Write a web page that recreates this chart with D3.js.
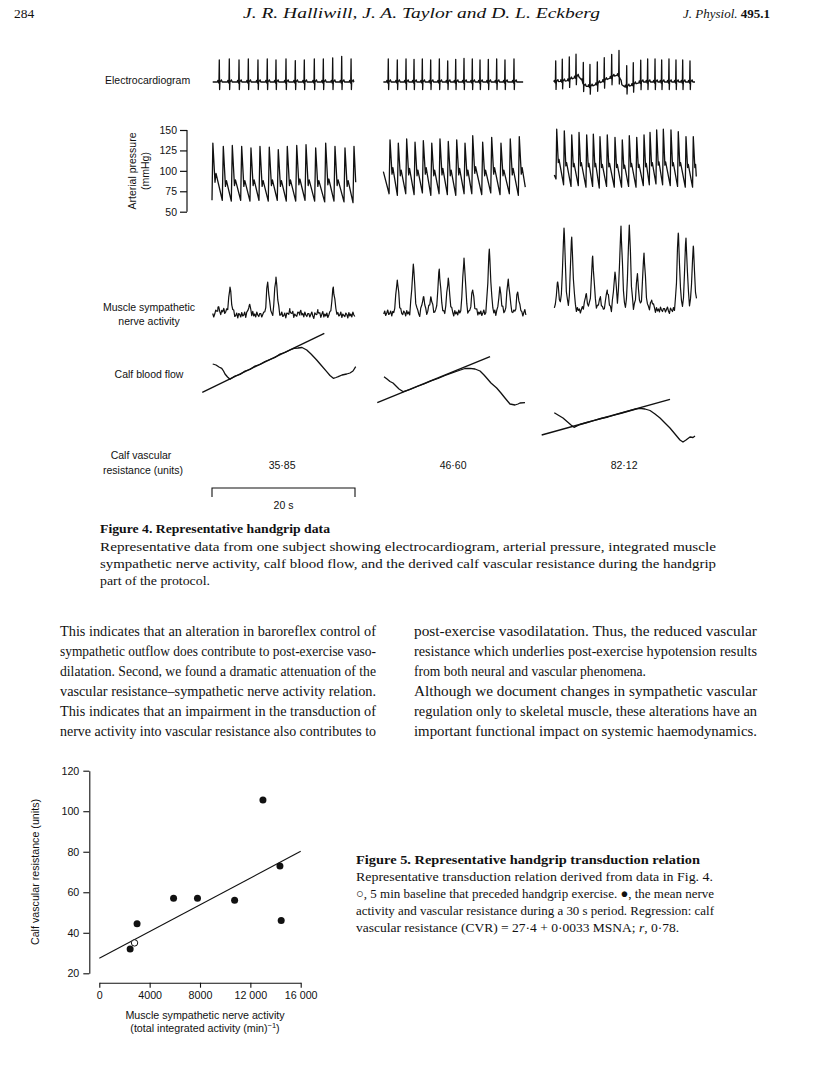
<!DOCTYPE html>
<html><head><meta charset="utf-8">
<script src="https://cdn.jsdelivr.net/npm/d3@7"></script>
<style>
body{margin:0;background:#fff}
svg{display:block}
.sans{font-family:"Liberation Sans",Arial,Helvetica,sans-serif;fill:#111}
.serif{font-family:"Liberation Serif","Times New Roman",serif;fill:#111}
</style>
</head><body>
<svg id="page" width="816" height="1088"></svg>
<script>
// ===================== DATA =====================
const segments = ["segment 1", "segment 2", "segment 3"];      // three 20 s handgrip segments
const cvrValues = ["35·85", "46·60", "82·12"];                  // calf vascular resistance (units)
const apTicks = [50, 75, 100, 125, 150];                        // mmHg

// ECG: R-wave times (s) and R amplitudes (mV) per segment
const ecgR_1 = [1.02, 2.42, 3.78, 5.08, 6.43, 7.73, 8.95, 10.35, 11.65, 12.91, 14.31, 15.57, 16.88, 18.14, 19.45];
const ecgA_1 = [1.05, 1.1, 1.05, 1.1, 1.05, 1.1, 1.05, 1.1, 1.02, 1.05, 1.1, 1.1, 1.15, 1.22, 1.1];
const ecgR_2 = [0.74, 2.0, 3.22, 4.34, 5.5, 6.67, 7.88, 9.05, 10.17, 11.33, 12.49, 13.57, 14.73, 15.9, 17.06, 18.32];
const ecgA_2 = [1.1, 1.05, 1.1, 1.08, 1.1, 1.05, 1.1, 1.0, 1.08, 1.12, 1.1, 1.05, 1.08, 1.1, 1.05, 1.1];
const ecgR_3 = [0.24, 1.16, 2.14, 3.08, 4.1, 5.03, 6.06, 7.03, 8.07, 9.09, 10.17, 11.09, 12.13, 13.1, 14.13, 15.06, 16.08, 17.06, 18.0, 19.02];
const ecgA_3 = [1.0, 1.05, 1.1, 1.1, 1.0, 1.05, 1.05, 1.1, 1.1, 1.2, 1.0, 1.05, 1.05, 1.1, 1.1, 1.05, 1.1, 1.05, 1.05, 1.0];
// ECG baseline wander in segment 3 (s, mV)
const ecgWanderT_3 = [0, 1.8, 3.4, 3.7, 4.3, 5.2, 8.8, 9.1, 9.6, 10.5, 12.2, 20];
const ecgWanderV_3 = [0, 0.05, 0.27, 0.2, -0.2, -0.22, 0.33, 0.3, -0.25, -0.2, 0, 0];
const ecgRange = [[0.1, 19.86], [0.05, 19.6], [0.0, 19.72]];

// Arterial pressure (mmHg): systolic peak times (s), systolic, diastolic (trough before), notch, dicrotic wave
const apT_1 = [0.12, 1.58, 2.84, 4.15, 5.45, 6.71, 8.01, 9.27, 10.53, 11.85, 13.15, 14.5, 15.9, 17.2, 18.6, 19.86];
const apSys_1 = [134, 130, 131, 130, 128, 130, 129, 126, 130, 131, 132, 128, 134, 130, 128, 130];
const apDia_1 = [64, 64, 63, 64, 63, 64, 63, 64, 63, 63, 64, 63, 62, 63, 62, 61];
const apNotch_1 = [86, 81, 82, 81, 82, 81, 82, 81, 82, 83, 82, 81, 83, 82, 81, 82];
const apWave_1 = [97, 88, 89, 88, 89, 88, 89, 88, 89, 90, 89, 88, 90, 89, 88, 89];
const apT_2 = [0.98, 2.14, 3.31, 4.48, 5.64, 6.82, 7.97, 9.13, 10.31, 11.47, 12.55, 13.94, 15.2, 16.5, 17.8, 19.06];
const apSys_2 = [138, 134, 139, 135, 137, 134, 139, 136, 138, 134, 143, 135, 141, 134, 139, 142];
const apDia_2 = [72, 70, 72, 71, 73, 70, 72, 71, 70, 72, 72, 71, 73, 71, 72, 70];
const apNotch_2 = [96, 94, 95, 94, 96, 94, 95, 94, 95, 94, 97, 94, 96, 94, 95, 96];
const apWave_2 = [104, 101, 103, 101, 104, 101, 103, 101, 103, 101, 105, 101, 104, 101, 103, 104];
const apT_3 = [0.38, 1.44, 2.48, 3.5, 4.57, 5.5, 6.43, 7.45, 8.53, 9.55, 10.53, 11.57, 12.59, 13.43, 14.36, 15.29, 16.36, 17.38, 18.46, 19.48];
const apSys_3 = [151, 149, 144, 147, 144, 145, 142, 144, 141, 138, 143, 141, 144, 147, 150, 151, 150, 148, 142, 142];
const apDia_3 = [90, 83, 81, 82, 80, 81, 79, 81, 80, 80, 81, 80, 82, 83, 84, 83, 82, 81, 80, 80];
const apNotch_3 = [110, 106, 105, 106, 105, 105, 104, 105, 104, 103, 105, 104, 105, 106, 107, 107, 106, 106, 104, 104];
const apWave_3 = [114, 110, 109, 110, 109, 109, 108, 109, 108, 107, 109, 108, 109, 110, 111, 111, 110, 110, 108, 108];
const apStart = [[0.0, 64], [0.05, 99], [0.04, 95]];
const apEnd = [[20.1, 86], [19.9, 80], [19.9, 93]];

// Muscle sympathetic nerve activity (arbitrary units): burst times (s), burst peak levels, baseline level
const msnaT_1 = [0.84, 1.68, 2.52, 5.22, 7.79, 8.95, 10.9, 12.3, 14.83, 16.97];
const msnaP_1 = [13, 11, 33, 15, 38, 43, 9, 8, 8, 33];
const msnaT_2 = [2.0, 4.24, 5.64, 6.71, 7.87, 9.13, 11.33, 12.55, 14.87, 16.36, 17.52, 18.84];
const msnaP_2 = [40, 56, 23, 23, 51, 42, 62, 30, 71, 32, 41, 28];
const msnaT_3 = [0.52, 1.4, 2.48, 4.48, 5.41, 6.43, 7.45, 8.53, 9.37, 10.53, 11.65, 12.59, 13.66, 17.38, 18.46, 19.48];
const msnaP_3 = [38, 92, 83, 26, 64, 22, 30, 48, 94, 95, 45, 67, 20, 87, 82, 74];
const msnaBase = [5, 7, 10];
const msnaRange = [[0.1, 20.0], [0.1, 20.0], [0.05, 20.0]];
// baseline jitter (units)
const msnaJitter = [1.5, -2, 0.5, 3, -1, -3.5, 2, 0, -1.5, 2.5, -0.5, 1, -3, 0.5, 3.5, -2, 1, -1, 2, -2.5, 0, 3, -1.5, -0.5,
                    2, -3, 1.5, 0.5, -2, 2.5, -1, 0, 3, -2.5, 1, -0.5, -1.5, 2, 0.5, -3, 2.5, -1, 1, -2, 3, 0, -1.5, 1.5];

// Calf blood flow (arbitrary units) traces: [time s, flow]
const flow_1 = [[0.1,76],[0.56,75],[0.98,73],[1.36,71.7],[1.61,69],[1.82,66],[2.17,63],[2.52,60.7],[3.22,64],[3.92,65.5],
  [4.62,69],[5.31,70.5],[6.01,74],[6.71,75.5],[7.41,78.5],[8.11,80.5],[8.81,82.5],[9.51,86],[10.21,87.5],[10.91,90],
  [11.47,91.7],[12.03,92],[12.59,92.5],[13.25,90],[13.85,86],[14.64,80],[15.24,75],[16.04,68.3],[16.5,64.5],[16.97,61.7],
  [17.34,62.5],[17.66,63.3],[18.18,65],[18.84,66],[19.3,67],[19.72,69],[20.1,73.3]];
const flow_2 = [[0.14,63.3],[0.56,61],[0.98,58.5],[1.4,57],[1.82,54],[2.24,51],[2.84,48.3],[3.78,50.5],[4.76,53.5],[5.73,56],
  [6.71,59.2],[7.69,61.5],[8.67,64.5],[9.65,67.2],[10.63,69.5],[11.47,71.5],[12.17,71.7],[12.87,71],[13.57,69],[14.13,65],
  [14.5,62],[15.1,57],[15.9,52],[16.5,47],[17.06,42],[17.76,36],[18.46,35],[18.88,36],[19.16,37],[19.86,37.3]];
const flow_3 = [[0.04,27.3],[0.56,25],[1.26,22],[1.82,18.5],[2.38,15],[2.8,12.7],[3.64,15.5],[4.62,17.5],[5.59,19.5],[6.57,21.5],
  [7.55,23],[8.53,25.2],[9.51,27],[10.49,29],[11.47,31],[12.03,31.7],[12.73,31],[13.43,29.5],[14.13,26],[14.83,22],
  [15.52,17],[16.22,12],[16.92,6],[17.62,0],[18.04,-2],[18.46,0],[19.02,3],[19.44,2.5],[19.72,4]];
// fitted flow lines: [[t0, f0], [t1, f1]]
const flowFit = [[[-1.36, 47.7], [15.71, 106.7]], [[-0.8, 37.3], [14.97, 83.3]], [[-1.72, 5], [16.22, 40.7]]];

// Figure 5 data
const fig5MSNA = [2450, 3000, 5900, 7800, 10750, 13000, 14350, 14450];
const fig5CVR = [32, 44.5, 57, 57, 56, 105.5, 73, 46];
const fig5BaseMSNA = [2800];
const fig5BaseCVR = [35];
const fig5Intercept = 27.4, fig5Slope = 0.0033;
const fig5XTicks = [0, 4000, 8000, 12000, 16000];
const fig5XLabels = ["0", "4000", "8000", "12 000", "16 000"];
const fig5YTicks = [20, 40, 60, 80, 100, 120];

// ===================== DRAWING =====================
const svg = d3.select("#page");
const INK = "#111";
const SANS = '"Liberation Sans",Arial,Helvetica,sans-serif';
const segX0 = [212, 383, 554], segW = 143;
const tx = segX0.map(x0 => d3.scaleLinear().domain([0, 20]).range([x0, x0 + segW]));
const line = d3.line();

// ---- header ----
svg.append("text").attr("class","serif").attr("x",14).attr("y",18).style("font-size","13.5px").text("284");
svg.append("text").attr("class","serif").attr("x",243).attr("y",18)
  .attr("textLength",357).attr("lengthAdjust","spacingAndGlyphs")
  .style("font-size","15px").style("font-style","italic").text("J. R. Halliwill, J. A. Taylor and D. L. Eckberg");
const hj = svg.append("text").attr("class","serif").attr("x",770).attr("y",18).attr("text-anchor","end").style("font-size","13px");
hj.append("tspan").style("font-style","italic").text("J. Physiol.");
hj.append("tspan").style("font-weight","bold").text(" 495.1");

// ---- left labels ----
function lab(x, y, t, anchor, size) {
  return svg.append("text").attr("class","sans").attr("x",x).attr("y",y).attr("text-anchor",anchor||"middle")
    .style("font-size",(size||10.5)+"px").text(t);
}
lab(105, 84, "Electrocardiogram", "start");
lab(149, 311, "Muscle sympathetic");
lab(149, 324.5, "nerve activity");
lab(149, 378, "Calf blood flow");
lab(141, 459, "Calf vascular");
lab(143, 474, "resistance (units)");

// ---- ECG ----
const ecgY = d3.scaleLinear().domain([0, 1]).range([82, 61]);
const ecgShapeT = [-0.26, -0.2, -0.14, -0.05, 0, 0.045, 0.09, 0.2, 0.3, 0.4];
const ecgShapeV = [0, 0.08, 0, -0.05, null, -0.36, 0, 0.05, 0.1, 0];
const ecgSets = [[ecgR_1, ecgA_1, null], [ecgR_2, ecgA_2, null],
  [ecgR_3, ecgA_3, d3.scaleLinear().domain(ecgWanderT_3).range(ecgWanderV_3)]];
ecgSets.forEach(([rt, amp, wander], i) => {
  const w = t => wander ? wander(t) : 0;
  const pts = [[ecgRange[i][0], 0]];
  rt.forEach((r, j) => ecgShapeT.forEach((dt, k) => {
    const t = r + dt;
    if (t < ecgRange[i][0] || t > ecgRange[i][1]) return;
    pts.push([t, ecgShapeV[k] === null ? amp[j] : ecgShapeV[k]]);
  }));
  pts.push([ecgRange[i][1], 0]);
  svg.append("path").attr("d", line(pts.map(p => [tx[i](p[0]), ecgY(p[1] + w(p[0]))])))
    .attr("fill","none").attr("stroke",INK).attr("stroke-width",1.3).attr("stroke-linejoin","round");
});

// ---- Arterial pressure ----
const apY = d3.scaleLinear().domain([50, 150]).range([211.7, 130]);
const apAxis = svg.append("g").attr("transform","translate(187,0)")
  .call(d3.axisLeft(apY).tickValues(apTicks).tickSize(7).tickSizeOuter(0).tickPadding(3));
apAxis.selectAll("path,line").attr("stroke",INK).attr("stroke-width",1.2);
apAxis.selectAll("text").style("font-size","10.5px").style("font-family",SANS).attr("fill",INK);
apAxis.select(".domain").attr("d", `M0,${apY(50)}V${apY(150)}`);
svg.append("text").attr("class","sans").attr("transform","translate(135.5,171) rotate(-90)")
  .attr("text-anchor","middle").style("font-size","10.5px").text("Arterial pressure");
svg.append("text").attr("class","sans").attr("transform","translate(148.5,171) rotate(-90)")
  .attr("text-anchor","middle").style("font-size","10.5px").text("(mmHg)");
const apSets = [[apT_1, apSys_1, apDia_1, apNotch_1, apWave_1, [0.14, 0.3, 0.44]],
                [apT_2, apSys_2, apDia_2, apNotch_2, apWave_2, [0.13, 0.28, 0.4]],
                [apT_3, apSys_3, apDia_3, apNotch_3, apWave_3, [0.1, 0.22, 0.32]]];
apSets.forEach(([pt, sys, dia, notch, wave, sh], i) => {
  const pts = [apStart[i]];
  pt.forEach((t, j) => {
    [[t - sh[0], dia[j]], [t, sys[j]], [t + sh[1], notch[j]], [t + sh[2], wave[j]]].forEach(p => {
      if (p[0] >= apStart[i][0] && p[0] <= apEnd[i][0]) pts.push(p);
    });
  });
  pts.push(apEnd[i]);
  svg.append("path").attr("d", line(pts.map(p => [tx[i](p[0]), apY(p[1])])))
    .attr("fill","none").attr("stroke",INK).attr("stroke-width",1.3).attr("stroke-linejoin","round");
});

// ---- MSNA ----
const msnaY = d3.scaleLinear().domain([0, 100]).range([320, 220]);
const burstShape = d3.scaleLinear().domain([-0.5, -0.28, -0.12, 0, 0.13, 0.32, 0.6]).range([0, 0.3, 0.78, 1, 0.72, 0.25, 0]).clamp(true);
[[msnaT_1, msnaP_1], [msnaT_2, msnaP_2], [msnaT_3, msnaP_3]].forEach(([bt, bp], i) => {
  const base = msnaBase[i];
  const [t0, t1] = msnaRange[i];
  const times = d3.range(t0, t1, 0.14);
  const samples = times.map((t, k) => {
    let v = base + msnaJitter[(k + i * 17) % msnaJitter.length];
    bt.forEach((b, j) => { if (Math.abs(t - b) < 0.6) v += (bp[j] - base) * burstShape(t - b); });
    return [t, v];
  });
  bt.forEach((b, j) => samples.push([b, bp[j]]));
  samples.sort((a, b) => a[0] - b[0]);
  svg.append("path").attr("d", line(samples.map(p => [tx[i](p[0]), msnaY(p[1])])))
    .attr("fill","none").attr("stroke",INK).attr("stroke-width",1.2).attr("stroke-linejoin","round");
});

// ---- Calf blood flow ----
const flowY = d3.scaleLinear().domain([0, 100]).range([440, 340]);
[flow_1, flow_2, flow_3].forEach((f, i) => {
  svg.append("path").attr("d", line(f.map(p => [tx[i](p[0]), flowY(p[1])])))
    .attr("fill","none").attr("stroke",INK).attr("stroke-width",1.3).attr("stroke-linejoin","round");
  svg.append("path").attr("d", line(flowFit[i].map(p => [tx[i](p[0]), flowY(p[1])])))
    .attr("fill","none").attr("stroke",INK).attr("stroke-width",1.4);
});

// ---- CVR values ----
cvrValues.forEach((v, i) => lab(tx[i](9.8), 469, v));

// ---- 20 s bracket ----
svg.append("path").attr("d", `M${tx[0](0)},497V488H${tx[0](20)}V497`).attr("fill","none").attr("stroke",INK).attr("stroke-width",1.1);
lab(tx[0](10), 509, "20 s");

// ---- body text helpers ----
function textLine(x, y, txt, size, width, opts) {
  opts = opts || {};
  const t = svg.append("text").attr("class","serif").attr("x",x).attr("y",y).style("font-size",size+"px");
  if (opts.bold) t.style("font-weight","bold");
  if (width) t.attr("textLength", width).attr("lengthAdjust","spacingAndGlyphs");
  if (opts.html) t.html(txt); else t.text(txt);
  return t;
}
// Figure 4 caption
textLine(100, 533, "Figure 4. Representative handgrip data", 13.5, 230, {bold:true});
textLine(100, 551, "Representative data from one subject showing electrocardiogram, arterial pressure, integrated muscle", 13.5, 616);
textLine(100, 568, "sympathetic nerve activity, calf blood flow, and the derived calf vascular resistance during the handgrip", 13.5, 616);
textLine(100, 585, "part of the protocol.", 13.5, 110);

// body columns
const leftLines = ["This indicates that an alteration in baroreflex control of",
  "sympathetic outflow does contribute to post-exercise vaso-",
  "dilatation. Second, we found a dramatic attenuation of the",
  "vascular resistance–sympathetic nerve activity relation.",
  "This indicates that an impairment in the transduction of",
  "nerve activity into vascular resistance also contributes to"];
const rightLines = [["post-exercise vasodilatation. Thus, the reduced vascular", 343],
  ["resistance which underlies post-exercise hypotension results", 343],
  ["from both neural and vascular phenomena.", 232],
  ["Although we document changes in sympathetic vascular", 343],
  ["regulation only to skeletal muscle, these alterations have an", 343],
  ["important functional impact on systemic haemodynamics.", 343]];
const bodyY = [636, 656, 676, 696, 716, 736];
leftLines.forEach((l, i) => textLine(60, bodyY[i], l, 14, 316));
rightLines.forEach((l, i) => textLine(414, bodyY[i], l[0], 14, l[1]));

// ---- Figure 5 scatter ----
const fx = d3.scaleLinear().domain([0, 16000]).range([99.3, 300.7]);
const fy = d3.scaleLinear().domain([20, 120]).range([973.3, 770.7]);
const yAx = svg.append("g").attr("transform","translate(89.3,0)")
  .call(d3.axisLeft(fy).tickValues(fig5YTicks).tickSize(6).tickSizeOuter(0).tickPadding(4));
const xAx = svg.append("g").attr("transform","translate(0,982.7)")
  .call(d3.axisBottom(fx).tickValues(fig5XTicks).tickFormat((d, i) => fig5XLabels[i]).tickSize(5).tickSizeOuter(0).tickPadding(4));
[yAx, xAx].forEach(g => {
  g.selectAll("path,line").attr("stroke",INK).attr("stroke-width",1.1);
  g.selectAll("text").style("font-family",SANS).style("font-size","10.7px").attr("fill",INK);
});
svg.append("text").attr("class","sans").attr("transform","translate(39,872) rotate(-90)").attr("text-anchor","middle")
  .style("font-size","10.7px").text("Calf vascular resistance (units)");
svg.append("text").attr("class","sans").attr("x",205).attr("y",1019).attr("text-anchor","middle").style("font-size","10.7px")
  .text("Muscle sympathetic nerve activity");
const xl2 = svg.append("text").attr("class","sans").attr("x",205).attr("y",1031.5).attr("text-anchor","middle").style("font-size","10.7px");
xl2.append("tspan").text("(total integrated activity (min)");
xl2.append("tspan").attr("dy",-4).style("font-size","7.5px").text("−1");
xl2.append("tspan").attr("dy",4).text(")");
svg.append("path").attr("d", line([0, 16000].map(m => [fx(m), fy(fig5Intercept + fig5Slope * m)])))
  .attr("stroke",INK).attr("stroke-width",1.1).attr("fill","none");
svg.selectAll("circle.fill").data(fig5MSNA).enter().append("circle").attr("class","fill")
  .attr("cx", d => fx(d)).attr("cy", (d, i) => fy(fig5CVR[i])).attr("r", 3.5).attr("fill", INK);
svg.selectAll("circle.open").data(fig5BaseMSNA).enter().append("circle").attr("class","open")
  .attr("cx", d => fx(d)).attr("cy", (d, i) => fy(fig5BaseCVR[i])).attr("r", 3.2).attr("fill","#fff").attr("stroke",INK).attr("stroke-width",1);

// Figure 5 caption
textLine(356, 864, "Figure 5. Representative handgrip transduction relation", 13.5, 344, {bold:true});
textLine(356, 881, "Representative transduction relation derived from data in Fig. 4.", 13.5, 357);
textLine(356, 898, "○, 5 min baseline that preceded handgrip exercise. &#9679;, the mean nerve", 13.5, 358, {html:true});
textLine(356, 915, "activity and vascular resistance during a 30 s period. Regression: calf", 13.5, 358);
textLine(356, 932, "vascular resistance (CVR) = 27·4 + 0·0033 MSNA; <tspan font-style='italic'>r</tspan>, 0·78.", 13.5, null, {html:true});
</script>
</body></html>
